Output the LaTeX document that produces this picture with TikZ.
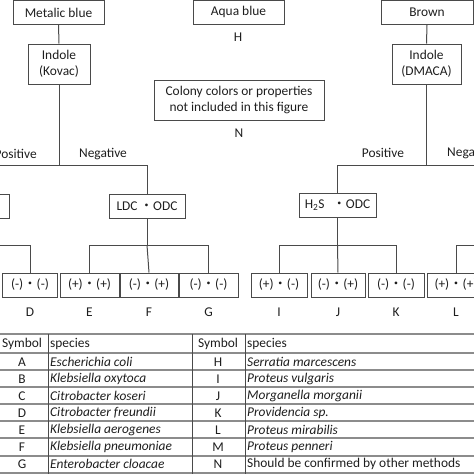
\documentclass[tikz,border=0pt]{standalone}
\usepackage{fontspec}
\setmainfont{Carlito}
\newfontfamily\cjk{Noto Sans CJK JP}
\newcommand{\mdt}{{\cjk ・}}
\definecolor{ln}{HTML}{4A4A4A}
\definecolor{tx}{HTML}{1E1E1E}
\definecolor{tl}{HTML}{8C8C8C}
\begin{document}
\begin{tikzpicture}[x=1pt,y=-1pt,
  font=\fontsize{13.4}{16.3}\selectfont, text=tx,
  box/.style={draw=ln, line width=1pt, inner sep=0pt, align=center},
  sz/.style 2 args={minimum width=#1pt, minimum height=#2pt},
  conn/.style={draw=ln, line width=1pt},
  lab/.style={inner sep=0pt},
  tabh/.style={draw=tl, line width=1.3pt},
  tabv/.style={draw=ln, line width=0.8pt}]
\useasboundingbox (0,0) rectangle (474,474);
\clip (0,0) rectangle (474,474);

% top row
\node[box, sz={91}{24}] (metal) at (58.5,12.4) {Metalic blue};
\node[box, sz={91}{24}] (aqua) at (238.5,12.4) {Aqua blue};
\node[box, sz={92}{24}] (brown) at (427,12.4) {Brown};
\node[lab] (hlab) at (238,37) {H};

% indole
\node[box, sz={62}{40}] (kovac) at (59,64) {Indole\\(Kovac)};
\node[box, sz={69}{40}] (dmaca) at (426.5,64) {Indole\\(DMACA)};
\node[box, sz={170}{40}] (colony) at (239,100) {Colony colors or properties\\not included in this figure};
\node[lab] (nlab) at (239,133) {N};

% second level
\node[box, sz={70}{24}] (leftcut) at (-26,206) {};
\node[box, sz={76}{24}] (ldc) at (147,206) {LDC\,\mdt ODC};
\node[box, sz={77}{24}] (h2s) at (337.5,205) {H\textsubscript{2}S\hspace{0.6em}\mdt ODC};

% branch labels
\node[lab, anchor=east] (pos1) at (37,154) {Positive};
\node[lab] (neg1) at (103,154) {Negative};
\node[lab] (pos2) at (383,153) {Positive};
\node[lab, anchor=west] (neg2) at (447,153) {Negative};

% bottom boxes
\node[box, sz={55}{24}] (bD) at (30,285) {(-)\mdt(-)};
\node[box, sz={59}{24}] (bE) at (89.5,285) {(+)\mdt(+)};
\node[box, sz={58}{24}] (bF) at (149,285) {(-)\mdt(+)};
\node[box, sz={59}{24}] (bG) at (208.5,285) {(-)\mdt(-)};
\node[box, sz={56}{24}] (bI) at (279,285) {(+)\mdt(-)};
\node[box, sz={54}{24}] (bJ) at (338,285) {(-)\mdt(+)};
\node[box, sz={56}{24}] (bK) at (396,285) {(-)\mdt(-)};
\node[box, sz={58}{24}] (bL) at (456,285) {(+)\mdt(+)};

\foreach \n/\x in {D/30,E/89.5,F/149,G/208.5,I/279,J/338,K/396,L/456}
  \node[lab] (l\n) at (\x,312) {\n};

% connectors left
\coordinate (k1) at (59,165);
\coordinate (kl) at (-40,165);
\coordinate (kr) at (147,165);
\draw[conn] (metal.south) -- (kovac.north);
\draw[conn] (kovac.south) -- (k1);
\draw[conn] (kl) -- (kr) -- (ldc.north);
\coordinate (l1) at (147,245);
\coordinate (le) at (89.5,245);
\coordinate (lg) at (208.5,245);
\draw[conn] (ldc.south) -- (l1);
\draw[conn] (le) -- (lg);
\draw[conn] (le) -- (bE.north);
\draw[conn] (l1) -- (bF.north);
\draw[conn] (lg) -- (bG.north);
\coordinate (dl) at (-40,245);
\coordinate (dd) at (30,245);
\draw[conn] (dl) -- (dd) -- (bD.north);

% connectors right
\coordinate (r1) at (426.5,165);
\coordinate (rl) at (337.5,165);
\coordinate (rr) at (520,165);
\draw[conn] (brown.south) -- (dmaca.north);
\draw[conn] (dmaca.south) -- (r1);
\draw[conn] (rl) -- (rr);
\draw[conn] (rl) -- (h2s.north);
\coordinate (s1) at (337.5,245);
\coordinate (si) at (279,245);
\coordinate (sk) at (396,245);
\draw[conn] (h2s.south) -- (s1);
\draw[conn] (si) -- (sk);
\draw[conn] (si) -- (bI.north);
\draw[conn] (s1) -- (bJ.north);
\draw[conn] (sk) -- (bK.north);
\coordinate (ll) at (456,245);
\coordinate (lr) at (520,245);
\draw[conn] (lr) -- (ll) -- (bL.north);

% table
\foreach \y in {334,353,370,387,404,421,438,456,473}
  \draw[tabh] (-10,\y) -- (490,\y);
\foreach \x in {48,192,245}
  \draw[tabv] (\x,334) -- (\x,480);

\node[lab] (th1) at (22,344) {Symbol};
\node[lab, anchor=west] (th2) at (50,344) {species};
\node[lab] (th3) at (218,344) {Symbol};
\node[lab, anchor=west] (th4) at (247,344) {species};

\foreach \i/\s/\sp/\t/\tp in {
  0/A/Escherichia coli/H/Serratia marcescens,
  1/B/Klebsiella oxytoca/I/Proteus vulgaris,
  2/C/Citrobacter koseri/J/Morganella morganii,
  3/D/Citrobacter freundii/K/Providencia sp.,
  4/E/Klebsiella aerogenes/L/Proteus mirabilis,
  5/F/Klebsiella pneumoniae/M/Proteus penneri}{
  \node[lab] (ts\s) at (22,362+17*\i) {\s};
  \node[lab, anchor=west] (tp\s) at (50,362+17*\i) {\itshape\sp};
  \node[lab] (ts\t) at (218,362+17*\i) {\t};
  \node[lab, anchor=west] (tp\t) at (247,362+17*\i) {\itshape\tp};
}
\node[lab] (tsG) at (22,464) {G};
\node[lab, anchor=west] (tpG) at (50,464) {\itshape Enterobacter cloacae};
\node[lab] (tsN) at (218,464) {N};
\node[lab, anchor=west] (tpN) at (247,464) {Should be confirmed by other methods};
\end{tikzpicture}
\end{document}
